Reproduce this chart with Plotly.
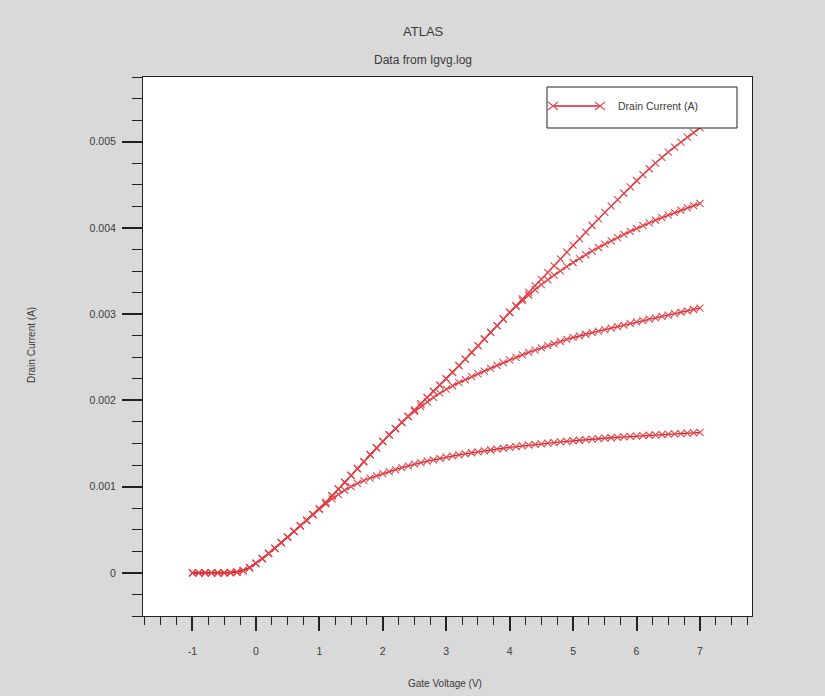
import plotly.graph_objects as go

# ---------------- data ----------------
gate_voltage = [-1.0, -0.9, -0.8, -0.7, -0.6, -0.5, -0.4, -0.3, -0.2, -0.1,
                0.0, 0.1, 0.2, 0.3, 0.4, 0.5, 0.6, 0.7, 0.8, 0.9,
                1.0, 1.1, 1.2, 1.3, 1.4, 1.5, 1.6, 1.7, 1.8, 1.9,
                2.0, 2.1, 2.2, 2.3, 2.4, 2.5, 2.6, 2.7, 2.8, 2.9,
                3.0, 3.1, 3.2, 3.3, 3.4, 3.5, 3.6, 3.7, 3.8, 3.9,
                4.0, 4.1, 4.2, 4.3, 4.4, 4.5, 4.6, 4.7, 4.8, 4.9,
                5.0, 5.1, 5.2, 5.3, 5.4, 5.5, 5.6, 5.7, 5.8, 5.9,
                6.0, 6.1, 6.2, 6.3, 6.4, 6.5, 6.6, 6.7, 6.8, 6.9, 7.0]

# drain current in mA, four sweeps
id_sweep1_mA = [0.0, 0.0, 0.0, 0.0, 0.0, 0.0, 0.003, 0.01, 0.025, 0.06,
                0.11, 0.165, 0.225, 0.285, 0.35, 0.415, 0.48, 0.545, 0.61, 0.675,
                0.74, 0.80, 0.857, 0.91, 0.958, 1.0, 1.038, 1.071, 1.10, 1.126,
                1.15, 1.175, 1.198, 1.22, 1.24, 1.26, 1.278, 1.295, 1.311, 1.327,
                1.342, 1.356, 1.369, 1.381, 1.393, 1.404, 1.415, 1.425, 1.435, 1.445,
                1.455, 1.464, 1.473, 1.481, 1.489, 1.497, 1.504, 1.511, 1.518, 1.525,
                1.532, 1.538, 1.544, 1.55, 1.556, 1.562, 1.567, 1.572, 1.577, 1.582,
                1.587, 1.592, 1.596, 1.60, 1.604, 1.608, 1.612, 1.616, 1.62, 1.624, 1.628]

id_sweep2_mA = [0.0, 0.0, 0.0, 0.0, 0.0, 0.0, 0.003, 0.01, 0.025, 0.06,
                0.11, 0.165, 0.225, 0.285, 0.35, 0.415, 0.48, 0.545, 0.61, 0.675,
                0.74, 0.815, 0.893, 0.972, 1.05, 1.13, 1.21, 1.29, 1.37, 1.45,
                1.525, 1.60, 1.672, 1.744, 1.812, 1.872, 1.928, 1.982, 2.034, 2.084,
                2.13, 2.17, 2.207, 2.242, 2.276, 2.308, 2.34, 2.372, 2.405, 2.438,
                2.47, 2.50, 2.529, 2.557, 2.584, 2.61, 2.635, 2.659, 2.683, 2.707,
                2.73, 2.749, 2.767, 2.785, 2.803, 2.82, 2.838, 2.856, 2.874, 2.892,
                2.91, 2.926, 2.942, 2.958, 2.974, 2.99, 3.006, 3.022, 3.038, 3.054, 3.07]

id_sweep3_mA = [0.0, 0.0, 0.0, 0.0, 0.0, 0.0, 0.003, 0.01, 0.025, 0.06,
                0.11, 0.165, 0.225, 0.285, 0.35, 0.415, 0.48, 0.545, 0.61, 0.675,
                0.74, 0.815, 0.893, 0.972, 1.05, 1.13, 1.21, 1.29, 1.37, 1.45,
                1.525, 1.60, 1.672, 1.744, 1.816, 1.888, 1.96, 2.032, 2.104, 2.176,
                2.25, 2.326, 2.402, 2.478, 2.556, 2.634, 2.712, 2.79, 2.868, 2.944,
                3.018, 3.089, 3.157, 3.222, 3.284, 3.343, 3.399, 3.452, 3.503, 3.552,
                3.599, 3.645, 3.689, 3.732, 3.773, 3.813, 3.851, 3.888, 3.924, 3.959,
                3.993, 4.026, 4.058, 4.089, 4.119, 4.148, 4.177, 4.205, 4.232, 4.259, 4.285]

id_sweep4_mA = [0.0, 0.0, 0.0, 0.0, 0.0, 0.0, 0.003, 0.01, 0.025, 0.06,
                0.11, 0.165, 0.225, 0.285, 0.35, 0.415, 0.48, 0.545, 0.61, 0.675,
                0.74, 0.815, 0.893, 0.972, 1.05, 1.13, 1.21, 1.29, 1.37, 1.45,
                1.525, 1.60, 1.672, 1.744, 1.816, 1.888, 1.96, 2.032, 2.104, 2.176,
                2.25, 2.326, 2.402, 2.478, 2.556, 2.634, 2.712, 2.79, 2.868, 2.946,
                3.024, 3.10, 3.176, 3.252, 3.328, 3.404, 3.482, 3.56, 3.64, 3.72,
                3.80, 3.876, 3.952, 4.028, 4.104, 4.18, 4.254, 4.328, 4.402, 4.476,
                4.55, 4.618, 4.686, 4.752, 4.818, 4.88, 4.938, 4.996, 5.052, 5.106, 5.16]

x_tick_vals = [-1, 0, 1, 2, 3, 4, 5, 6, 7]
x_tick_text = ["-1", "0", "1", "2", "3", "4", "5", "6", "7"]
y_tick_vals = [0, 0.001, 0.002, 0.003, 0.004, 0.005]
y_tick_text = ["0", "0.001", "0.002", "0.003", "0.004", "0.005"]

series_name = "Drain Current (A)"
main_title = "ATLAS"
sub_title = "Data from Igvg.log"
x_title = "Gate Voltage (V)"
y_title = "Drain Current (A)"

# ---------------- figure ----------------
LINE_RED = "#d8222b"
MARK_RED = "#e4464c"
TXT = "#3a3a3a"
FONT = "Liberation Sans, Arial, sans-serif"

fig = go.Figure()
for sweep in (id_sweep1_mA, id_sweep2_mA, id_sweep3_mA, id_sweep4_mA):
    fig.add_trace(go.Scatter(
        x=gate_voltage,
        y=[v * 1e-3 for v in sweep],
        mode="lines+markers",
        name=series_name,
        showlegend=False,
        line=dict(color=LINE_RED, width=1.3),
        marker=dict(symbol="x-thin", size=7,
                    line=dict(color=MARK_RED, width=1.1)),
    ))

axis_common = dict(
    showgrid=False, zeroline=False,
    showline=True, linecolor="#222222", linewidth=1, mirror=True,
    ticks="outside", tickcolor="#222222",
    tickfont=dict(family=FONT, size=10.5, color=TXT),
)

fig.update_xaxes(
    **axis_common,
    range=[-1.78, 7.82],
    tickvals=x_tick_vals, ticktext=x_tick_text,
    ticklen=14, tickwidth=2,
    ticklabelstandoff=11,
    minor=dict(ticks="outside", dtick=0.25, tick0=0, ticklen=8,
               tickwidth=1, tickcolor="#222222"),
)
fig.update_yaxes(
    **axis_common,
    range=[-0.0005, 0.00575],
    tickvals=y_tick_vals, ticktext=y_tick_text,
    ticklen=20, tickwidth=2,
    ticklabelstandoff=4,
    minor=dict(ticks="outside", dtick=0.00025, tick0=0, ticklen=10,
               tickwidth=1, tickcolor="#222222"),
)

W, H = 825, 696
L, R, T, B = 143, 73, 77, 80
pw, ph = W - L - R, H - T - B


def px_x(px):
    return (px - L) / pw


def px_y(py):
    return (H - B - py) / ph


def label(text, px, py, size, **kw):
    d = dict(text=text, x=px_x(px), y=px_y(py), xref="paper", yref="paper",
             xanchor="center", yanchor="middle", showarrow=False,
             font=dict(family=FONT, size=size, color=TXT))
    d.update(kw)
    return d


annotations = [
    label(main_title, 423, 32, 13),
    label(sub_title, 423, 60, 12),
    label(x_title, 445, 683, 10),
    label(y_title, 31, 345, 10, textangle=-90),
    label(series_name, 616, 106, 10.5, xanchor="left"),
]

shapes = [
    # legend box
    dict(type="rect", xref="paper", yref="paper",
         x0=px_x(547), x1=px_x(737), y0=px_y(128), y1=px_y(87),
         fillcolor="white", line=dict(color="#222222", width=1), layer="above"),
    # legend line
    dict(type="line", xref="paper", yref="paper",
         x0=px_x(553), x1=px_x(600), y0=px_y(106), y1=px_y(106),
         line=dict(color=LINE_RED, width=1.3), layer="above"),
]
for cx in (553, 600):
    for d in (1, -1):
        shapes.append(dict(
            type="line", xref="paper", yref="paper",
            xsizemode="pixel", ysizemode="pixel",
            xanchor=px_x(cx), yanchor=px_y(106),
            x0=-5, x1=5, y0=-4 * d, y1=4 * d,
            line=dict(color=MARK_RED, width=1.1), layer="above"))

fig.update_layout(
    width=W, height=H,
    margin=dict(l=L, r=R, t=T, b=B),
    paper_bgcolor="#d9d9d9",
    plot_bgcolor="white",
    showlegend=False,
    annotations=annotations,
    shapes=shapes,
    font=dict(family=FONT, color=TXT),
)

fig.write_html("out.html",
               config={"displayModeBar": False},
               post_script="document.body.style.margin='0';"
                           "document.body.style.background='#d9d9d9';")
